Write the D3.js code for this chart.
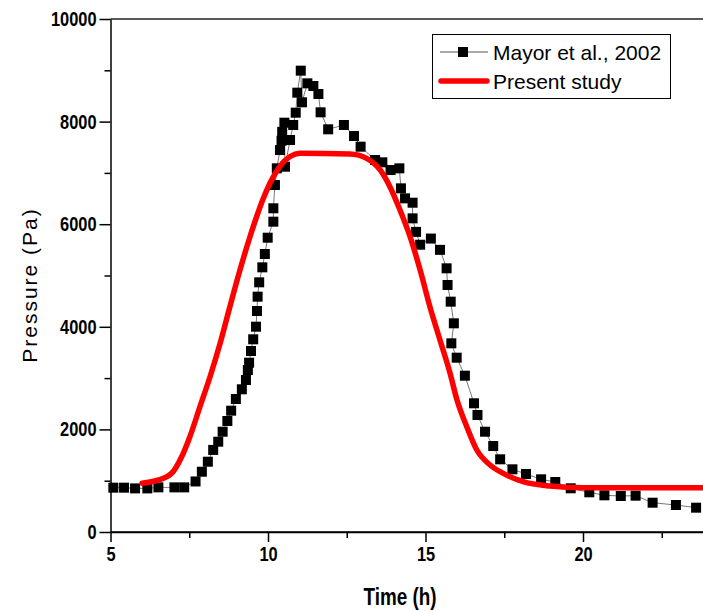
<!DOCTYPE html>
<html>
<head>
<meta charset="utf-8">
<script src="https://cdn.jsdelivr.net/npm/d3@7"></script>
<style>
  body { margin: 0; background: #fff; }
  svg { display: block; font-family: "Liberation Sans", Arial, sans-serif; }
</style>
</head>
<body>
<div id="chart"></div>
<script>
// Mayor et al., 2002 (measured) - time in h, pressure in Pa
var mayorTime = [5.09, 5.43, 5.78, 6.17, 6.52, 7.03, 7.34, 7.70, 7.90, 8.09, 8.26, 8.42, 8.56, 8.71, 8.83, 8.98,
  9.17, 9.30, 9.36, 9.40, 9.46, 9.53, 9.62, 9.65, 9.67, 9.72, 9.82, 9.90, 9.99, 10.17, 10.17, 10.22, 10.28,
  10.38, 10.43, 10.45, 10.52, 10.54, 10.70, 10.80, 10.88, 10.93, 11.04, 11.08, 11.25, 11.44, 11.60, 11.67,
  11.91, 12.41, 12.73, 12.94, 13.40, 13.63, 13.89, 14.17, 14.22, 14.35, 14.59, 14.59, 14.70, 14.83, 15.17,
  15.46, 15.67, 15.70, 15.80, 15.90, 15.82, 15.99, 16.25, 16.54, 16.65, 16.89, 17.15, 17.37, 17.76, 18.19,
  18.67, 19.12, 19.61, 20.20, 20.68, 21.20, 21.67, 22.21, 22.95, 23.59];
var mayorPressure = [864, 864, 850, 850, 870, 870, 870, 985, 1175, 1370, 1600, 1760, 1955, 2164, 2365, 2593,
  2782, 2963, 3158, 3300, 3528, 3756, 4002, 4308, 4587, 4867, 5159, 5419, 5737, 6049, 6310, 6764, 7089,
  7446, 7627, 7800, 7979, 7121, 7641, 7934, 8174, 8564, 8993, 8376, 8746, 8694, 8538, 8181,
  7850, 7934, 7719, 7511, 7251, 7206, 7056, 7089, 6699, 6504, 6419, 6114, 5850, 5600, 5720,
  5500, 5140, 4815, 4490, 4068, 3678, 3398, 3047, 2509, 2281, 1955, 1676, 1417, 1222, 1131,
  1027, 975, 852, 774, 715, 702, 708, 571, 526, 474];

// Present study (model curve)
var modelTime = [6.0, 6.5, 6.94, 7.26, 7.52, 7.84, 8.16, 8.48, 8.79, 9.11, 9.43, 9.64, 9.85, 10.06, 10.38,
  10.70, 11.02, 12.6, 13.13, 13.56, 13.87, 14.19, 14.51, 14.83, 15.14, 15.46, 15.78, 16.0, 16.31, 16.63,
  17.05, 17.47, 18.1, 18.95, 20.0, 23.8];
var modelPressure = [950, 1010, 1144, 1468, 1858, 2443, 3027, 3678, 4392, 5107, 5760, 6150, 6500, 6797, 7130,
  7320, 7382, 7368, 7284, 7057, 6731, 6277, 5757, 5107, 4392, 3743, 3093, 2573, 2053, 1598,
  1306, 1144, 981, 897, 864, 864];

var xTicks = [5, 10, 15, 20];
var xMinorTicks = [7.5, 12.5, 17.5, 22.5];
var yTicks = [0, 2000, 4000, 6000, 8000, 10000];
var yMinorTicks = [1000, 3000, 5000, 7000, 9000];

var seriesNames = ["Mayor et al., 2002", "Present study"];

var width = 703, height = 611;
var plotLeft = 110.5, plotTop = 19, plotBottom = 532;
var squeeze = 0.82; // the original uses a condensed face

var x = d3.scaleLinear().domain([5, 25]).range([plotLeft, plotLeft + 630]);
var y = d3.scaleLinear().domain([0, 10000]).range([plotBottom, plotTop]);

var svg = d3.select("#chart").append("svg")
  .attr("width", width)
  .attr("height", height);

// top frame line
svg.append("line")
  .attr("x1", plotLeft).attr("x2", width)
  .attr("y1", plotTop).attr("y2", plotTop)
  .attr("stroke", "#222").attr("stroke-width", 1.5);

// minor ticks first
svg.append("g")
  .attr("transform", "translate(0," + plotBottom + ")")
  .call(d3.axisBottom(x).tickValues(xMinorTicks).tickSize(6).tickSizeOuter(0).tickFormat(""))
  .call(function(g) { g.select(".domain").remove(); });

svg.append("g")
  .attr("transform", "translate(" + plotLeft + ",0)")
  .call(d3.axisLeft(y).tickValues(yMinorTicks).tickSize(6).tickSizeOuter(0).tickFormat(""))
  .call(function(g) { g.select(".domain").remove(); });

var xAxis = svg.append("g")
  .attr("transform", "translate(0," + plotBottom + ")")
  .call(d3.axisBottom(x).tickValues(xTicks).tickSize(10).tickSizeOuter(0).tickPadding(5)
    .tickFormat(d3.format("d")));

var yAxis = svg.append("g")
  .attr("transform", "translate(" + plotLeft + ",0)")
  .call(d3.axisLeft(y).tickValues(yTicks).tickSize(11).tickSizeOuter(0).tickPadding(3)
    .tickFormat(d3.format("d")));

// x axis line runs on to the right edge
svg.append("line")
  .attr("x1", plotLeft).attr("x2", width)
  .attr("y1", plotBottom).attr("y2", plotBottom)
  .attr("stroke", "#000").attr("stroke-width", 1.5);

svg.selectAll(".tick line, .domain")
  .attr("stroke", "#000")
  .attr("stroke-width", 1.5);

svg.selectAll(".tick text")
  .attr("fill", "#000")
  .style("font-size", "20px")
  .style("font-weight", "bold");

// squeeze the tick labels horizontally
xAxis.selectAll(".tick text")
  .attr("transform", "scale(" + squeeze + ",1)");
yAxis.selectAll(".tick text")
  .attr("x", -14 / squeeze)
  .attr("transform", "scale(" + squeeze + ",1)");

// axis titles
svg.append("text")
  .attr("transform", "translate(400,605) scale(" + squeeze + ",1)")
  .style("text-anchor", "middle")
  .style("font-size", "23px")
  .style("font-weight", "bold")
  .text("Time (h)");

svg.append("text")
  .attr("transform", "translate(37,285) rotate(-90)")
  .style("text-anchor", "middle")
  .style("font-size", "21px")
  .style("letter-spacing", "2px")
  .text("Pressure (Pa)");

// data
var mayor = mayorTime.map(function(t, i) { return { t: t, p: mayorPressure[i] }; });
var model = modelTime.map(function(t, i) { return { t: t, p: modelPressure[i] }; });

var mayorLine = d3.line()
  .x(function(d) { return x(d.t); })
  .y(function(d) { return y(d.p); });

var modelLine = d3.line()
  .curve(d3.curveMonotoneX)
  .x(function(d) { return x(d.t); })
  .y(function(d) { return y(d.p); });

svg.append("path")
  .attr("fill", "none")
  .attr("stroke", "#777")
  .attr("stroke-width", 1)
  .attr("d", mayorLine(mayor));

svg.append("g")
  .selectAll("rect")
  .data(mayor)
  .enter()
  .append("rect")
    .attr("x", function(d) { return x(d.t) - 5; })
    .attr("y", function(d) { return y(d.p) - 5; })
    .attr("width", 10)
    .attr("height", 10)
    .attr("fill", "#000");

svg.append("path")
  .attr("fill", "none")
  .attr("stroke", "#ff0000")
  .attr("stroke-width", 5.5)
  .attr("stroke-linecap", "round")
  .attr("d", modelLine(model));

// legend
var legend = svg.append("g");
legend.append("rect")
  .attr("x", 432.5).attr("y", 34.5)
  .attr("width", 238).attr("height", 64)
  .attr("fill", "#fff")
  .attr("stroke", "#000");

legend.append("line")
  .attr("x1", 440).attr("x2", 488)
  .attr("y1", 52).attr("y2", 52)
  .attr("stroke", "#555").attr("stroke-width", 1);
legend.append("rect")
  .attr("x", 458).attr("y", 47)
  .attr("width", 10).attr("height", 10)
  .attr("fill", "#000");
legend.append("line")
  .attr("x1", 441).attr("x2", 487)
  .attr("y1", 81).attr("y2", 81)
  .attr("stroke", "#ff0000").attr("stroke-width", 5.5)
  .attr("stroke-linecap", "round");

legend.selectAll("text.leg")
  .data(seriesNames)
  .enter()
  .append("text")
    .attr("class", "leg")
    .attr("x", 493)
    .attr("y", function(d, i) { return 60 + i * 29; })
    .style("font-size", "21px")
    .text(function(d) { return d; });
</script>
</body>
</html>
